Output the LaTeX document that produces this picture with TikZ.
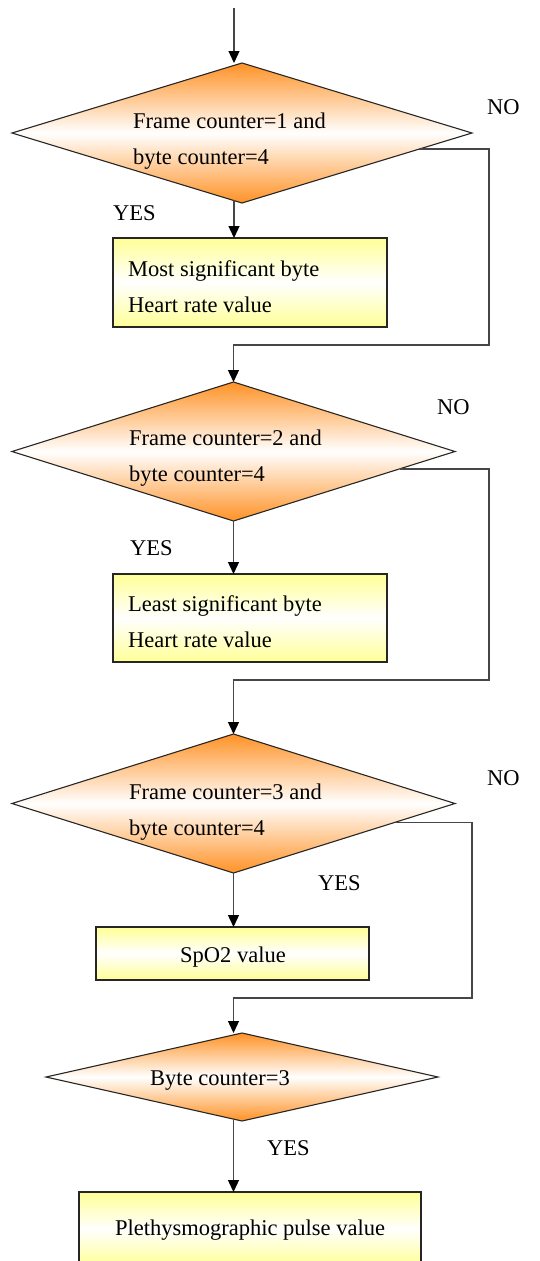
\documentclass[tikz,border=0pt]{standalone}
\usepackage{fontspec}
\setmainfont{Liberation Serif}
\usetikzlibrary{shapes.geometric,arrows.meta,calc}

\definecolor{decorange}{RGB}{255,146,38}
\definecolor{boxyellow}{RGB}{255,255,150}
\definecolor{linegray}{RGB}{70,70,70}

\tikzset{
  decision/.style={diamond, draw=black!85, line width=1.1pt, inner sep=0pt, outer sep=0pt,
    top color=decorange, bottom color=decorange, middle color=white,
    minimum width=#1},
  action/.style={rectangle, draw=black!85, line width=1.1pt, inner sep=0pt, outer sep=0pt,
    top color=boxyellow, bottom color=boxyellow, middle color=white},
  txt/.style={inner sep=0pt, align=left, font=\fontsize{22.5}{36}\selectfont},
  lbl/.style={inner sep=0pt, anchor=west, font=\fontsize{22.5}{27}\selectfont},
  flow/.style={draw=linegray, line width=1.3pt},
  arr/.style={flow, -{Triangle[length=12pt,width=11pt,color=black,fill=black]}}
}

\begin{document}
\begin{tikzpicture}[x=1pt,y=-1pt]
  \clip (0,0) rectangle (540,1261);

  % entry point of the chain
  \coordinate (top) at (234,8);

  % first test: frame 1, byte 4
  \node[decision=460pt, minimum height=140pt] (d1) at (242,133) {};
  \node[txt, anchor=west] (d1t) at (133,141) {Frame counter=1 and\\byte counter=4};
  \node[action, minimum width=274pt, minimum height=89pt] (b1) at (250,282.5) {};
  \node[txt, anchor=west] (b1t) at (128,286.5) {Most significant byte\\Heart rate value};

  % second test: frame 2, byte 4
  \node[decision=443pt, minimum height=139pt] (d2) at (233.5,451.5) {};
  \node[txt, anchor=west] (d2t) at (129,458) {Frame counter=2 and\\byte counter=4};
  \node[action, minimum width=274pt, minimum height=88pt] (b2) at (250,618) {};
  \node[txt, anchor=west] (b2t) at (128,621.5) {Least significant byte\\Heart rate value};

  % third test: frame 3, byte 4
  \node[decision=443pt, minimum height=139pt] (d3) at (233.5,803.5) {};
  \node[txt, anchor=west] (d3t) at (129,812) {Frame counter=3 and\\byte counter=4};
  \node[action, minimum width=273pt, minimum height=53pt] (b3) at (232.5,953.5) {};
  \node[txt] (b3t) at (233,957) {SpO2 value};

  % last test: byte 3
  \node[decision=392pt, minimum height=88pt] (d4) at (242,1077) {};
  \node[txt] (d4t) at (220,1080) {Byte counter=3};
  \node[action, minimum width=342pt, minimum height=74pt] (b4) at (250,1229) {};
  \node[txt] (b4t) at (250,1230) {Plethysmographic pulse value};

  % branch labels
  \node[lbl] (no1) at (487,107) {NO};
  \node[lbl] (yes1) at (113,213) {YES};
  \node[lbl] (no2) at (437,407) {NO};
  \node[lbl] (yes2) at (130,548) {YES};
  \node[lbl] (no3) at (487,778) {NO};
  \node[lbl] (yes3) at (318,883) {YES};
  \node[lbl] (yes4) at (267,1148) {YES};

  % bends of the NO branches
  \coordinate (k1) at (489,345);
  \coordinate (k2) at (489,680);
  \coordinate (k3) at (472,998);

  % YES branches and entry
  \draw[arr] (top) -- (top |- d1.north);
  \draw[arr] ([yshift=3pt]d1.south -| top) -- (b1.north -| top);
  \draw[arr] (d2.south) -- (b2.north -| d2.south);
  \draw[arr] (d3.south) -- (b3.north -| d3.south);
  \draw[arr] ([yshift=1pt]d4.south -| d3.south) -- (b4.north -| d3.south);

  % NO branches
  \draw[arr] ($(d1.east)!0.23!(d1.south)$) -| (k1) -| (d2.north);
  \draw[arr] ($(d2.east)!0.25!(d2.south)$) -| (k2) -| (d3.north);
  \draw[arr] ($(d3.east)!0.27!(d3.south)$) -| (k3) -| (d3.south |- d4.north);
\end{tikzpicture}
\end{document}
